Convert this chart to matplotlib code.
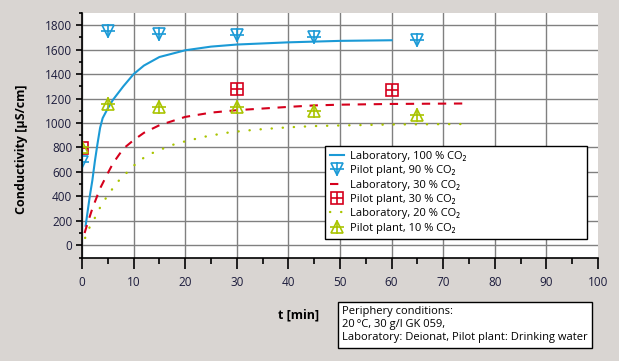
import numpy as np
import matplotlib.pyplot as plt
from matplotlib.ticker import MultipleLocator
from matplotlib.legend_handler import HandlerTuple

plt.rcParams['font.family'] = ['Open Sans', 'DejaVu Sans']

# laboratory curves
t_lab100 = [0.7, 1, 1.5, 2, 2.5, 3, 3.5, 4, 5, 6, 7, 8, 10, 12, 15, 20, 25, 30, 40, 50, 60]
v_lab100 = [160, 250, 400, 530, 690, 830, 960, 1040, 1120, 1190, 1245, 1300, 1400, 1470, 1540, 1595, 1625, 1642, 1660, 1672, 1677]

t_lab30 = [0.5, 1, 2, 3, 3.5, 5, 6, 8, 10, 12, 15, 20, 25, 30, 40, 45, 50, 60, 75]
v_lab30 = [100, 170, 300, 410, 465, 590, 670, 790, 860, 920, 982, 1050, 1085, 1105, 1132, 1144, 1150, 1156, 1160]

t_lab20 = [0.6, 1.5, 2.7, 3.8, 5.2, 6.7, 8.7, 10.7, 12.8, 15, 17, 19, 21.5, 23.5, 26, 28, 30, 32, 35, 40, 45, 50, 60, 75]
v_lab20 = [60, 150, 240, 335, 420, 510, 595, 678, 740, 778, 814, 840, 865, 886, 905, 920, 930, 939, 950, 965, 975, 980, 988, 992]

# pilot plant measurements
t_p90 = [0, 5, 15, 30, 45, 65]
v_p90 = [683, 1753, 1732, 1724, 1704, 1683]
t_p30 = [0, 30, 60]
v_p30 = [797, 1279, 1274]
t_p10 = [0, 5, 15, 30, 45, 65]
v_p10 = [800, 1154, 1132, 1135, 1097, 1064]

blue = '#1b9ad6'
red = '#d5001c'
green = '#a9c400'
bg = '#d9d5d2'

fig = plt.figure(figsize=(6.19, 3.61), dpi=100, facecolor=bg)
ax = fig.add_axes([0.1325, 0.2867, 0.8335, 0.6773])
ax.set_facecolor('white')

ax.grid(True, which='major', color='#808080', linewidth=1)
ax.set_axisbelow(True)

l1, = ax.plot(t_lab100, v_lab100, color=blue, lw=1.5)
l2, = ax.plot(t_lab30, v_lab30, color=red, lw=1.5, dashes=(4, 3.7))
l3, = ax.plot(t_lab20, v_lab20, color=green, lw=1.7, dashes=(0.1, 4.6), dash_capstyle='round')

ms = 9
p1a, = ax.plot(t_p90, v_p90, 'v', ms=ms, mfc='none', mec=blue, mew=1.2, ls='none')
p1b, = ax.plot(t_p90, v_p90, '+', ms=ms * 1.1, mec=blue, mew=1.2, ls='none')
p2a, = ax.plot(t_p30, v_p30, 's', ms=ms * 0.95, mfc='none', mec=red, mew=1.2, ls='none')
p2b, = ax.plot(t_p30, v_p30, '+', ms=ms * 0.95, mec=red, mew=1.2, ls='none')
p3a, = ax.plot(t_p10, v_p10, '^', ms=ms, mfc='none', mec=green, mew=1.2, ls='none')
p3b, = ax.plot(t_p10, v_p10, '+', ms=ms * 1.1, mec=green, mew=1.2, ls='none')

ax.set_xlim(0, 100)
ax.set_ylim(-100, 1900)
ax.xaxis.set_major_locator(MultipleLocator(10))
ax.xaxis.set_minor_locator(MultipleLocator(5))
ax.yaxis.set_major_locator(MultipleLocator(200))
ax.yaxis.set_minor_locator(MultipleLocator(100))
ax.set_yticks(range(0, 1801, 200))

for gl, tk in zip(ax.get_xgridlines(), ax.get_xticks()):
    if tk >= 100:
        gl.set_visible(False)

for s in ['top', 'right']:
    ax.spines[s].set_visible(False)
for s in ['left', 'bottom']:
    ax.spines[s].set_color('black')
    ax.spines[s].set_linewidth(1.2)

ax.tick_params(axis='x', which='major', length=8, width=1.2, color='black', labelsize=8.5, labelcolor='#1c1c3c', pad=5)
ax.tick_params(axis='x', which='minor', length=4.5, width=1.2, color='black')
ax.tick_params(axis='y', which='major', length=4, width=1.2, color='black', labelsize=8.5, labelcolor='#1c1c3c', pad=3)
ax.tick_params(axis='y', which='minor', length=2.5, width=1.2, color='black')

fig.text(0.035, 0.587, 'Conductivity [µS/cm]', fontsize=9, fontweight='bold',
         rotation=90, ha='center', va='center')
fig.text(0.516, 0.127, 't [min]', fontsize=9, fontweight='bold', ha='right', va='center')

handles = [l1, (p1a, p1b), l2, (p2a, p2b), l3, (p3a, p3b)]
labels = ['Laboratory, 100 % CO₂', 'Pilot plant, 90 % CO₂',
          'Laboratory, 30 % CO₂', 'Pilot plant, 30 % CO₂',
          'Laboratory, 20 % CO₂', 'Pilot plant, 10 % CO₂']
leg = ax.legend(handles, labels, handler_map={tuple: HandlerTuple(ndivide=1, pad=0)},
                loc='upper left', bbox_to_anchor=(0.471, 0.456, 0.508, 0.0), mode='expand',
                fontsize=8, frameon=True, fancybox=False, framealpha=1, edgecolor='black',
                borderpad=0.45, labelspacing=0.3, handlelength=1.3, handletextpad=0.5,
                borderaxespad=0)
leg.get_frame().set_linewidth(1.0)

fig.text(0.553, 0.152,
         'Periphery conditions:\n20\u2009°C, 30 g/l GK 059,\nLaboratory: Deionat, Pilot plant: Drinking water',
         fontsize=8, ha='left', va='top', linespacing=1.25,
         bbox=dict(boxstyle='square,pad=0.4', facecolor='white', edgecolor='black', linewidth=1))

fig.savefig('out.png', dpi=100, facecolor=bg)
